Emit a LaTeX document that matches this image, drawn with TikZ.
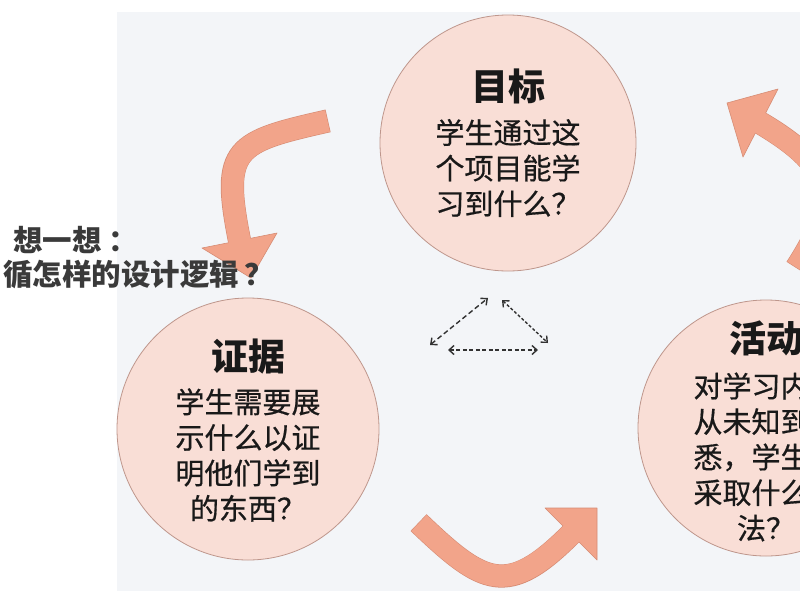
\documentclass[tikz,border=0pt]{standalone}
\usepackage{fontspec}
\newfontfamily\cjk{Noto Sans CJK SC}
\newfontfamily\cjkbody{Noto Sans CJK SC}[FakeBold=0.6]
\usetikzlibrary{arrows.meta}
\definecolor{panel}{RGB}{243,245,248}
\definecolor{circfill}{RGB}{249,222,214}
\definecolor{circline}{RGB}{190,150,140}
\definecolor{arrfill}{RGB}{242,164,138}
\definecolor{arrline}{RGB}{214,140,116}
\definecolor{ink}{RGB}{25,25,25}
\definecolor{grayink}{RGB}{58,58,58}
\definecolor{dashink}{RGB}{50,50,50}
\begin{document}
\begin{tikzpicture}[x=1pt,y=-1pt,
  bubble/.style={circle, fill=circfill, draw=circline, line width=0.8pt, inner sep=0pt, minimum size=#1},
  titletext/.style={font=\cjk\bfseries\fontsize{37}{40}\selectfont, text=ink, inner sep=0pt},
  bodytext/.style={font=\cjkbody\fontsize{29}{35.5}\selectfont, text=ink, align=center, inner sep=0pt},
  notetext/.style={font=\cjk\bfseries\fontsize{29.5}{34}\selectfont, text=grayink, inner sep=0pt, anchor=west},
  shaftline/.style={line width=23.2pt, draw=arrline},
  shaftfill/.style={line width=22pt, draw=arrfill},
  arrhead/.style={fill=arrfill, draw=arrline, line width=0.6pt, line join=round},
  dlink/.style={draw=dashink, line width=1.4pt, {Straight Barb[length=5pt,width=9pt]}-{Straight Barb[length=5pt,width=9pt]}},
]
\useasboundingbox (0,0) rectangle (800,600);
\clip (0,0) rectangle (800,600);
\fill[white] (0,0) rectangle (800,600);
\fill[panel] (117,12) rectangle (800,591);

% circles
\node[bubble=256pt] (goal) at (508,143) {};
\node[bubble=262pt] (evid) at (248,429) {};
\node[bubble=256pt] (acti) at (766,428) {};

% arrow 1 (goal -> evidence)
\coordinate (a1t) at (327.5,121);
\coordinate (a1b) at (239.5,240.5);
\draw[shaftline, shorten <=-0.6pt] (a1t) .. controls (234.9,141.9) and (220.9,147.4) .. (a1b);
\draw[arrhead] (202,248) -- (251,278) -- (277,233) -- cycle;
\draw[shaftfill, shorten >=-2pt] (a1t) .. controls (234.9,141.9) and (220.9,147.4) .. (a1b);

% arrow 2 (evidence -> activity)
\coordinate (a2t) at (419,523);
\coordinate (a2b) at (571,534);
\draw[shaftline, shorten <=-0.6pt] (a2t) .. controls (483.8,585.1) and (507.4,597.6) .. (a2b);
\draw[arrhead] (545,508) -- (597,508) -- (597,560) -- cycle;
\draw[shaftfill, shorten >=-2pt] (a2t) .. controls (483.8,585.1) and (507.4,597.6) .. (a2b);

% arrow 3 (activity -> goal)
\coordinate (a3t) at (796.6,267.5);
\coordinate (a3b) at (760.5,123);
\draw[shaftline, shorten <=-0.6pt] (a3t) .. controls (840,200) and (838,169) .. (a3b);
\draw[arrhead] (778,89) -- (727,103) -- (743,157) -- cycle;
\draw[shaftfill, shorten >=-2pt] (a3t) .. controls (840,200) and (838,169) .. (a3b);

% dashed triangle
\coordinate (d1) at (430,345);
\coordinate (d2) at (488,298);
\coordinate (d3) at (502,300);
\coordinate (d4) at (548,343);
\coordinate (d5) at (448,350);
\coordinate (d6) at (538,350);
\draw[dlink, dash pattern=on 5pt off 3pt] (d1) -- (d2);
\draw[dlink, dash pattern=on 3pt off 2pt] (d3) -- (d4);
\draw[dlink, dash pattern=on 4pt off 2.5pt] (d5) -- (d6);

% texts
\node[titletext] (goalT) at (508,86) {目标};
\node[bodytext] (goalB) at (508,168) {学生通过这\\个项目能学\\习到什么？};
\node[titletext] (evidT) at (248,357) {证据};
\node[bodytext] (evidB) at (248,455) {学生需要展\\示什么以证\\明他们学到\\的东西？};
\node[titletext] (actiT) at (766,338) {活动};
\node[bodytext] (actiB) at (766,457) {对学习内容\\从未知到熟\\悉，学生会\\采取什么方\\法？};

\node[notetext] (note1) at (13,240) {想一想 ：};
\node[notetext] (note2) at (3,274) {循怎样的设计逻辑\,？};
\end{tikzpicture}
\end{document}
